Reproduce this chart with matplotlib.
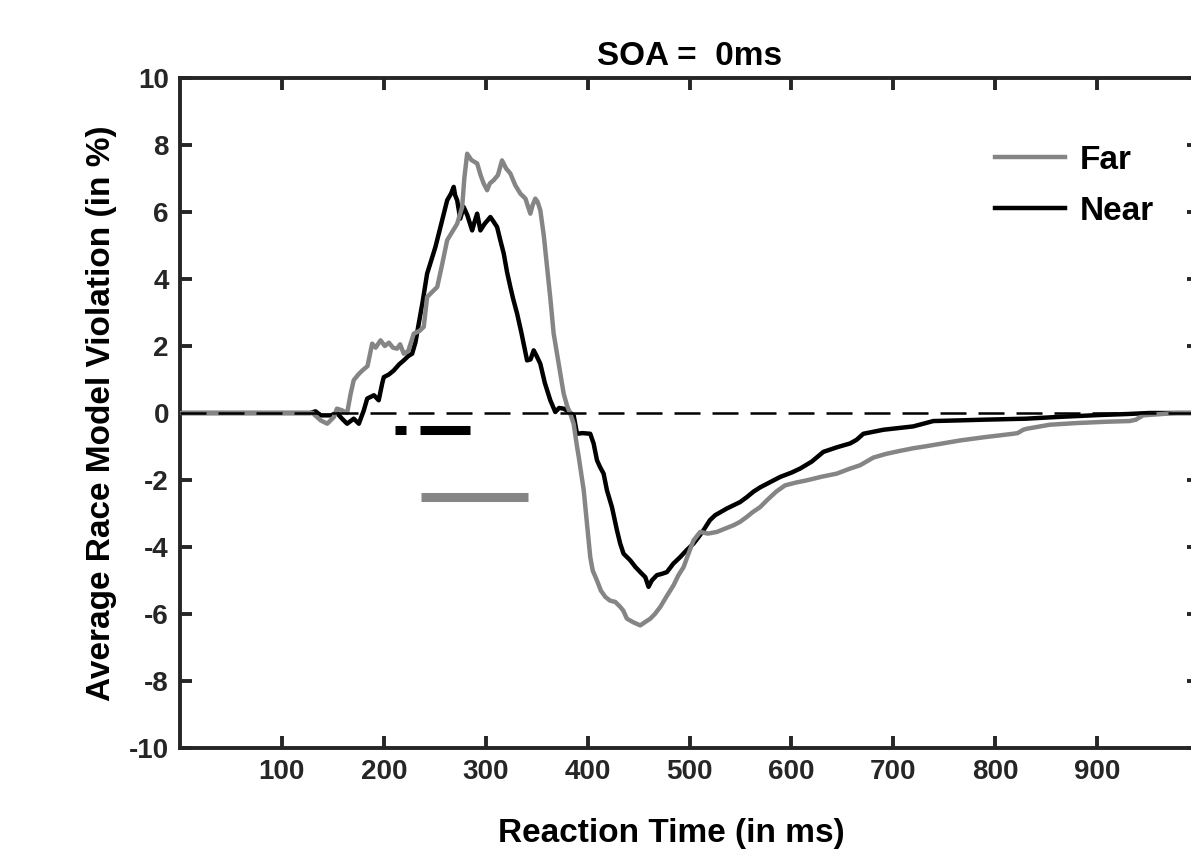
import matplotlib
matplotlib.use('Agg')
import matplotlib.pyplot as plt

plt.rcParams['font.family'] = ['Liberation Sans', 'DejaVu Sans']
plt.rcParams['font.weight'] = 'bold'
plt.rcParams['axes.unicode_minus'] = False

# Race model violation curves
far_x = [0, 130, 138, 144.5, 151, 154, 159, 164, 167.5, 170.5, 175, 179, 184, 188.6, 192,
         196.8, 201, 205, 209, 213, 216, 219.6, 224, 229.4, 235, 239.2, 242.5, 247, 252.4,
         257, 262.2, 267, 272, 276.9, 279, 281.8, 286, 291.6, 295, 298, 301.4, 304, 307.8,
         312, 316, 320, 324.2, 329, 334, 339, 343.8, 346, 348.7, 351, 353.6, 357, 360.2,
         363.5, 366.7, 372, 376.5, 380, 383, 386.3, 389.6, 391.3, 396.2, 399.4, 402.6, 405,
         409.2, 413, 417.4, 422, 427.2, 432.1, 435, 438.6, 445, 451.7, 456, 461.5, 466,
         471.3, 478, 484.4, 489, 494.2, 499, 504, 510.5, 518, 526.9, 535, 543.2, 549.6,
         556.3, 562, 569.3, 575.8, 585, 593.8, 604, 615.1, 630, 644.5, 657.5, 667.4, 680.5,
         693, 706.6, 720, 732.7, 750, 765.4, 790, 817.6, 822, 827.5, 831, 853.6, 880, 910,
         932, 938, 945.1, 964.7, 977.8, 1000]
far_y = [0, 0, -0.22, -0.32, -0.12, 0.13, 0.08, 0.0, 0.58, 0.98, 1.15, 1.27, 1.4, 2.07, 1.95,
         2.17, 2.0, 2.1, 1.95, 1.92, 2.05, 1.77, 1.85, 2.37, 2.45, 2.57, 3.46, 3.6, 3.76,
         4.4, 5.16, 5.4, 5.65, 6.15, 7.0, 7.74, 7.55, 7.45, 7.1, 6.85, 6.65, 6.85, 6.95,
         7.1, 7.54, 7.3, 7.15, 6.8, 6.55, 6.4, 5.95, 6.2, 6.4, 6.3, 6.05, 5.3, 4.36,
         3.4, 2.37, 1.4, 0.58, 0.2, -0.02, -0.32, -1.0, -1.31, -2.31, -3.3, -4.3, -4.7,
         -5.0, -5.3, -5.49, -5.6, -5.64, -5.79, -5.9, -6.14, -6.25, -6.34, -6.25, -6.14, -6.0,
         -5.79, -5.45, -5.14, -4.85, -4.6, -4.2, -3.8, -3.55, -3.6, -3.55, -3.45, -3.35, -3.25,
         -3.1, -2.96, -2.81, -2.61, -2.35, -2.16, -2.08, -2.01, -1.9, -1.81, -1.66, -1.56, -1.33,
         -1.22, -1.13, -1.05, -0.99, -0.9, -0.82, -0.72, -0.62, -0.6, -0.5, -0.47, -0.35, -0.3, -0.26,
         -0.24, -0.2, -0.07, -0.03, 0, 0]

near_x = [0, 128, 133, 138, 148, 154, 159, 164, 170.5, 175.5, 180.4, 183.7, 190.3, 195,
          198.4, 200, 205, 209.8, 215, 219.6, 224, 227.8, 231, 234.3, 238, 242.5, 246,
          250.7, 256, 262.2, 266, 268.6, 270, 272, 275, 278.4, 282, 286.7, 289, 291.6,
          294.8, 299, 304.6, 308, 311.2, 314, 317.7, 321, 324.2, 327, 330.8, 335, 340.6,
          344, 347.1, 350, 353.6, 358, 363.4, 368.3, 372, 376.5, 381, 386.3, 389.6, 395,
          402.6, 405.9, 409.2, 412, 415.7, 419, 423.9, 428.8, 432, 435.3, 441.9, 447,
          451.7, 456.6, 459.8, 463, 468, 473, 477.8, 484, 490.9, 497, 503.9, 509, 513.7,
          520, 525.2, 531, 536.7, 549.6, 556.3, 562.7, 569.3, 588.9, 600, 608.5, 620,
          631.4, 645, 657.5, 664, 670.6, 690.3, 719.6, 739.3, 765.4, 788.3, 830, 860.2,
          902.5, 930, 951.5, 1000]
near_y = [0, 0.0, 0.05, -0.07, -0.07, 0.0, -0.17, -0.32, -0.17, -0.32, 0.08, 0.43, 0.53, 0.38,
          0.88, 1.07, 1.15, 1.27, 1.45, 1.57, 1.7, 1.77, 2.1, 2.67, 3.3, 4.16, 4.5,
          4.96, 5.6, 6.35, 6.55, 6.75, 6.5, 6.35, 5.8, 6.15, 5.9, 5.45, 5.7, 5.95,
          5.45, 5.65, 5.85, 5.7, 5.55, 5.2, 4.76, 4.2, 3.76, 3.4, 2.97, 2.4, 1.57,
          1.6, 1.87, 1.7, 1.47, 0.9, 0.38, 0.03, 0.15, 0.13, 0.05, -0.07, -0.62, -0.6,
          -0.62, -0.91, -1.41, -1.6, -1.81, -2.31, -2.81, -3.5, -3.9, -4.2, -4.4, -4.6,
          -4.75, -4.9, -5.19, -5.0, -4.84, -4.8, -4.75, -4.5, -4.3, -4.1, -3.9, -3.7, -3.5,
          -3.2, -3.05, -2.95, -2.85, -2.66, -2.51, -2.35, -2.22, -1.91, -1.78, -1.66, -1.45,
          -1.16, -1.02, -0.91, -0.8, -0.62, -0.5, -0.40, -0.24, -0.22, -0.2, -0.17, -0.12,
          -0.06, -0.03, 0.0, 0]

# significant intervals
near_sig = [(211, 222), (235.5, 285)]
near_sig_y = -0.52
far_sig = [(236.7, 341.6)]
far_sig_y = -2.51

gray = '#858585'
axcol = '#262626'

fig = plt.figure(figsize=(11.91, 8.60), dpi=100)
ax = fig.add_axes([180 / 1191, 112 / 860, 1019 / 1191, 670 / 860])

ax.plot(near_x, near_y, color='black', lw=3.2, label='Near', zorder=3)
ax.plot(far_x, far_y, color=gray, lw=3.2, label='Far', zorder=4)
ax.plot([0, 1000], [0, 0], color='black', lw=1.8, dashes=(10.4, 4.8), zorder=5)

for x0, x1 in near_sig:
    ax.plot([x0, x1], [near_sig_y, near_sig_y], color='black', lw=6.5, solid_capstyle='butt')
for x0, x1 in far_sig:
    ax.plot([x0, x1], [far_sig_y, far_sig_y], color=gray, lw=6.5, solid_capstyle='butt')

ax.set_xlim(0, 1000)
ax.set_ylim(-10, 10)
ax.set_xticks(range(100, 1000, 100))
ax.set_yticks(range(-10, 11, 2))
ax.tick_params(direction='in', length=8.6, width=2.8, top=True, right=True,
               labelsize=20, colors=axcol, pad=8)
for lab in ax.get_xticklabels() + ax.get_yticklabels():
    lab.set_fontweight('bold')
for s in ax.spines.values():
    s.set_linewidth(2.8)
    s.set_color(axcol)

ax.set_title('SOA =  0ms', fontsize=24, fontweight='bold', pad=9)
ax.set_xlabel('Reaction Time (in ms)', fontsize=24, fontweight='bold')
ax.set_ylabel('Average Race Model Violation (in %)', fontsize=24, fontweight='bold')
ax.xaxis.set_label_coords(0.482, -0.104)
ax.yaxis.set_label_coords(-0.062, 0.5)

h, l = ax.get_legend_handles_labels()
ax.legend([h[1], h[0]], [l[1], l[0]], loc='upper left', bbox_to_anchor=(0.80, 0.90),
          frameon=False, handlelength=2.1, handletextpad=0.45,
          labelspacing=0.6, borderpad=0, borderaxespad=0,
          prop={'weight': 'bold', 'size': 24})

fig.savefig('out.png', dpi=100)
